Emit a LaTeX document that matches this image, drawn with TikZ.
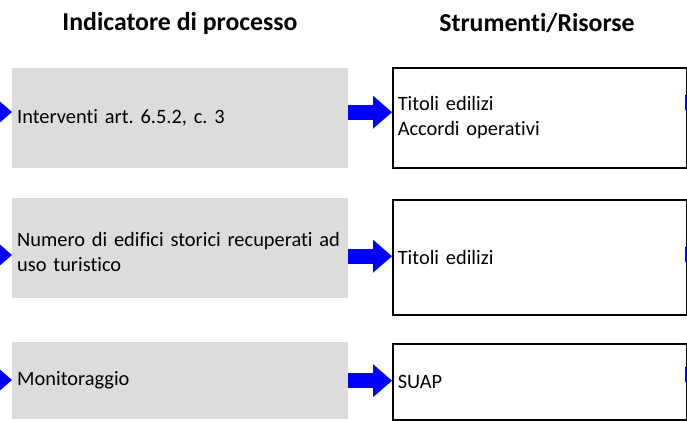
\documentclass[tikz,border=0pt]{standalone}
\usepackage{fontspec}
\setmainfont{Carlito}[Ligatures=NoCommon]
\usetikzlibrary{arrows.meta}
\definecolor{boxgrey}{RGB}{220,220,220}
\frenchspacing

\begin{document}
\begin{tikzpicture}[x=1pt,y=-1pt,
  hdr/.style={font=\bfseries\fontsize{25.8}{29}\selectfont},
  indbox/.style={fill=boxgrey,anchor=north west,text width=326pt,align=left,inner sep=5pt,font=\fontsize{20.4}{25}\selectfont},
  resbox/.style={draw,line width=1.5pt,anchor=north west,text width=284pt,align=left,inner sep=5pt,font=\fontsize{20.4}{25}\selectfont},
  bigarrow/.style={blue,line width=15pt,-{Triangle[length=19pt,width=33pt,line width=0pt]}}
]
\useasboundingbox (0,0) rectangle (687,421);
\clip (0,0) rectangle (687,421);
\node[hdr] (hind) at (180,23) {Indicatore di processo};
\node[hdr] (hres) at (537,23) {Strumenti/Risorse};
\node[indbox,minimum height=100pt] (ind1) at (12,68) {Interventi art. 6.5.2, c. 3};
\node[indbox,minimum height=100pt,text height=22pt] (ind2) at (12,198) {Numero di edifici storici recuperati ad\\uso turistico};
\node[indbox,minimum height=77pt] (ind3) at (12,342) {Monitoraggio};
\node[resbox,minimum height=100pt] (res1) at (392,67) {Titoli edilizi\\Accordi operativi};
\node[resbox,minimum height=115pt] (res2) at (392,199) {Titoli edilizi};
\node[resbox,minimum height=76pt] (res3) at (392,343) {SUAP};
% incoming arrows from the left edge
\coordinate (in1) at (-40,112);
\coordinate (in2) at (-40,255);
\coordinate (in3) at (-40,380);
\draw[bigarrow] (in1) -- (in1 -| ind1.west);
\draw[bigarrow] (in2) -- (in2 -| ind2.west);
\draw[bigarrow] (in3) -- (in3 -| ind3.west);
% indicator -> resource
\draw[bigarrow] ([yshift=6pt]ind1.east) -- ([yshift=6pt]ind1.east -| res1.west);
\draw[bigarrow] ([yshift=-8pt]ind2.east) -- ([yshift=-8pt]ind2.east -| res2.west);
\draw[bigarrow] (ind3.east) -- (ind3.east -| res3.west);
% outgoing arrows at the right edge
\coordinate (out1) at (740,102);
\coordinate (out2) at (740,254);
\coordinate (out3) at (740,374);
\draw[bigarrow] ([xshift=-3pt]res1.east |- out1) -- (out1);
\draw[bigarrow] ([xshift=-3pt]res2.east |- out2) -- (out2);
\draw[bigarrow] ([xshift=-3pt]res3.east |- out3) -- (out3);
\end{tikzpicture}
\end{document}
